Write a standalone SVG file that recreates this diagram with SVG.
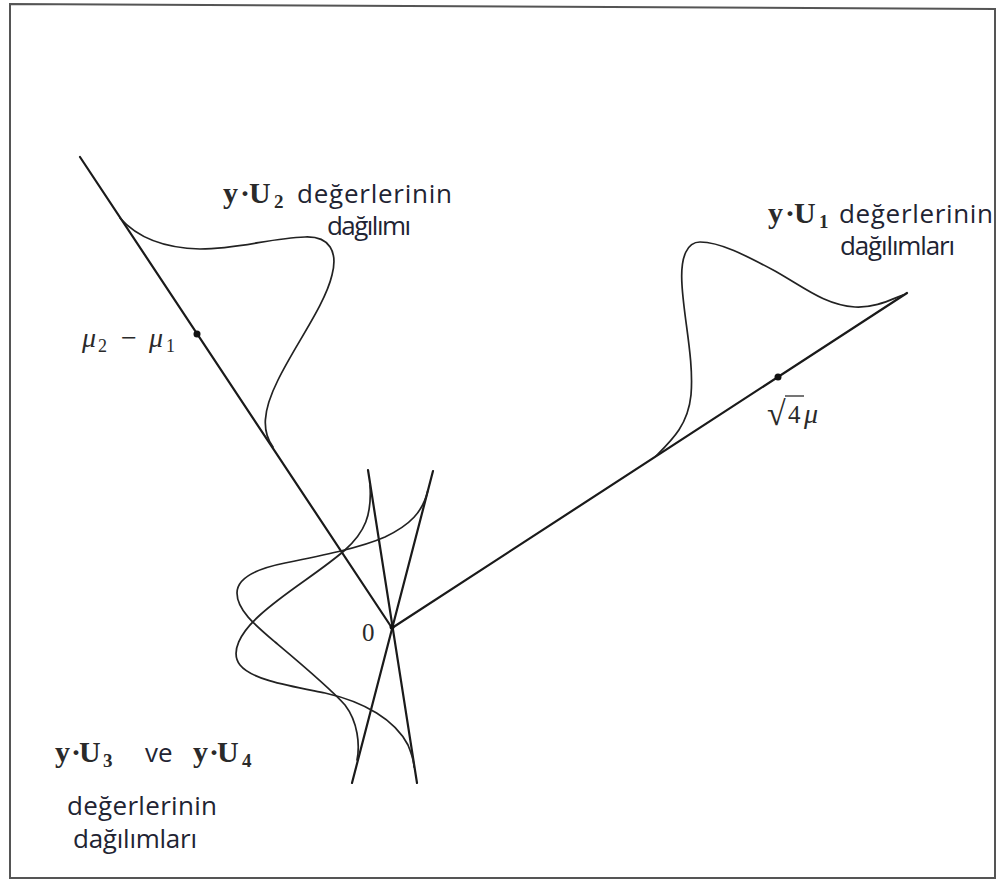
<svg xmlns="http://www.w3.org/2000/svg" width="998" height="885" viewBox="0 0 998 885">
<style>
.ax{stroke:#1a1a1a;stroke-width:2.2;fill:none;stroke-linecap:round}
.cv{stroke:#222;stroke-width:1.7;fill:none;stroke-linecap:round;stroke-linejoin:round}
.fr{stroke:#555;stroke-width:2;fill:none}
.w{font-family:"Open Sans","Noto Sans",sans-serif;font-size:26px;fill:#1f2433}
.mb{font-family:"Liberation Serif","DejaVu Serif",serif;font-weight:bold;font-size:30px;fill:#2a2a2a}
.sb{font-size:19px}
.mi{font-family:"Liberation Serif","DejaVu Serif",serif;font-style:italic;font-size:28px;fill:#2a2a2a}
.up{font-style:normal}
.ms{font-style:normal;font-size:18px}
.mr{font-family:"Liberation Serif","DejaVu Serif",serif;font-size:25px;fill:#2a2a2a}
.pt{fill:#111}
</style>
<rect width="998" height="885" fill="#fff"/>
<g id="frame">
<polygon class="fr" points="10,4 995,9 995,878 10,878"/>
</g>
<g id="connectors">
<line class="ax" x1="80" y1="157" x2="392" y2="628"/>
<line class="ax" x1="392" y1="628" x2="907" y2="293"/>
<line class="ax" x1="368" y1="470" x2="417" y2="783"/>
<line class="ax" x1="433" y1="471" x2="352" y2="783"/>
</g>
<g id="dist-u2">
<path class="cv" d="M120,218 C135,235 160,248 200,249 C240,249 270,238 305,237 C330,236 338,252 332,275 C325,305 295,345 278,380 C262,412 262,432 273,447"/>
</g>
<g id="dist-u1">
<path class="cv" d="M656,456 C672,440 688,425 691,395 C694,360 684,320 682,285 C680,255 688,242 700,242 C720,242 745,255 775,271 C805,288 825,305 855,307 C875,308 890,300 903,295"/>
</g>
<g id="dist-u3">
<path class="cv" d="M370,485 C372,515 365,532 345,550 C320,572 285,592 260,615 C240,633 230,652 240,665 C252,680 290,686 325,693 C365,702 395,720 408,745 C412,755 414,762 414,767"/>
</g>
<g id="dist-u4">
<path class="cv" d="M428,490 C423,512 410,525 385,537 C360,548 320,556 285,563 C255,569 237,578 237,593 C237,610 255,625 275,642 C300,663 330,688 345,705 C358,722 360,745 357,760"/>
</g>
<g id="points">
<circle class="pt" cx="197" cy="334" r="3.5"/>
<circle class="pt" cx="778" cy="377" r="3.5"/>
<circle class="pt" cx="392" cy="627" r="2.5"/>
</g>
<g id="label-u2">
<text class="mb"><tspan x="223" y="203">y</tspan><tspan x="240" y="203">·</tspan><tspan x="249" y="203">U</tspan><tspan class="sb" x="274" y="208">2</tspan></text>
<text class="w" x="297" y="203" textLength="155" lengthAdjust="spacing">değerlerinin</text>
<text class="w" x="327" y="235" textLength="84" lengthAdjust="spacing">dağılımı</text>
</g>
<g id="label-u1">
<text class="mb"><tspan x="768" y="223">y</tspan><tspan x="785" y="223">·</tspan><tspan x="794" y="223">U</tspan><tspan class="sb" x="819" y="228">1</tspan></text>
<text class="w" x="839" y="223" textLength="154" lengthAdjust="spacing">değerlerinin</text>
<text class="w" x="840" y="255" textLength="115" lengthAdjust="spacing">dağılımları</text>
</g>
<g id="label-u34">
<text class="mb"><tspan x="55" y="762">y</tspan><tspan x="71" y="762">·</tspan><tspan x="79" y="762">U</tspan><tspan class="sb" x="103" y="767">3</tspan></text>
<text class="w" x="145" y="762">ve</text>
<text class="mb"><tspan x="193" y="762">y</tspan><tspan x="209" y="762">·</tspan><tspan x="217" y="762">U</tspan><tspan class="sb" x="242" y="767">4</tspan></text>
<text class="w" x="67" y="815" textLength="150" lengthAdjust="spacing">değerlerinin</text>
<text class="w" x="73" y="848" textLength="124" lengthAdjust="spacing">dağılımları</text>
</g>
<g id="label-mu">
<text class="mi"><tspan x="82" y="347">μ</tspan><tspan class="ms" x="98" y="352">2</tspan><tspan class="up" x="121" y="347">−</tspan><tspan x="149" y="347">μ</tspan><tspan class="ms" x="166" y="352">1</tspan></text>
</g>
<g id="label-sqrt">
<text class="mr"><tspan x="767" y="425" font-size="34">√</tspan><tspan x="788" y="423">4</tspan><tspan x="804" y="423" font-style="italic" font-size="28">μ</tspan></text>
<line x1="785" y1="396" x2="804" y2="396" stroke="#2a2a2a" stroke-width="1.3"/>
</g>
<g id="label-zero">
<text class="mr" x="362" y="641">0</text>
</g>
</svg>
